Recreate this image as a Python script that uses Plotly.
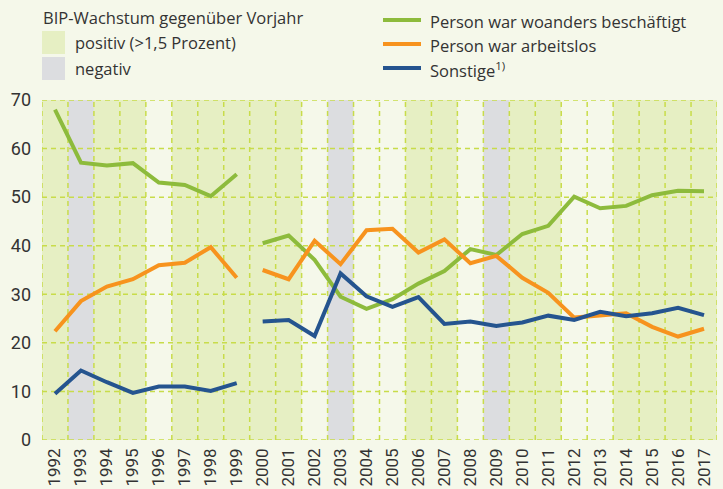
import plotly.graph_objects as go

years = list(range(1992, 2018))
year_labels = [str(y) for y in years]

# BIP growth category per year: "pos" (>1.5%), "neg", "" (neither)
bip = ["pos", "neg", "pos", "pos", "", "pos", "pos", "pos", "pos", "pos", "", "neg", "", "",
       "pos", "pos", "", "neg", "pos", "pos", "", "", "pos", "pos", "pos", "pos"]

woanders = [68.0, 57.1, 56.5, 57.0, 53.0, 52.5, 50.2, 54.7,
            40.5, 42.1, 37.1, 29.5, 27.0, 29.0, 32.2, 34.8, 39.3, 38.1, 42.4, 44.1,
            50.1, 47.7, 48.2, 50.4, 51.3, 51.2]
arbeitslos = [22.4, 28.6, 31.6, 33.1, 36.0, 36.5, 39.7, 33.4,
              35.0, 33.1, 41.0, 36.2, 43.2, 43.5, 38.6, 41.3, 36.4, 37.9, 33.4, 30.3,
              25.2, 25.7, 26.1, 23.3, 21.3, 22.9]
sonstige = [9.5, 14.3, 11.9, 9.7, 11.0, 11.0, 10.1, 11.7,
            24.4, 24.7, 21.4, 34.3, 29.6, 27.4, 29.4, 23.9, 24.4, 23.5, 24.2, 25.6,
            24.7, 26.4, 25.5, 26.1, 27.2, 25.7]

series_names = ["Person war woanders beschäftigt", "Person war arbeitslos", "Sonstige<sup>1)</sup>"]
series_colors = ["#8dbb3c", "#f7931e", "#25548f"]
bip_title = "BIP-Wachstum gegenüber Vorjahr"
bip_names = {"pos": "positiv (>1,5 Prozent)", "neg": "negativ"}
bip_colors = {"pos": "#e6efc3", "neg": "#dcdde0"}
y_ticks = [0, 10, 20, 30, 40, 50, 60, 70]

BG = "#f5f8ea"
GRID = "#c8dc4a"
TXT = "#333333"
LFONT = "Open Sans, sans-serif"
TFONT = "Roboto, sans-serif"
LSIZE = 16.5

fig = go.Figure()

# shading for BIP growth
shapes = []
for y, c in zip(years, bip):
    if c:
        shapes.append(dict(type="rect", xref="x", yref="y", x0=y - 0.5, x1=y + 0.5,
                           y0=0, y1=70, fillcolor=bip_colors[c], line_width=0, layer="below"))

# split series at the 1999/2000 break
split = years.index(2000)
for vals, name, col in zip([woanders, arbeitslos, sonstige], series_names, series_colors):
    for sl in (slice(0, split), slice(split, None)):
        fig.add_trace(go.Scatter(x=years[sl], y=vals[sl], mode="lines", name=name,
                                 line=dict(color=col, width=4), showlegend=False,
                                 hoverinfo="skip"))

# plot-area pixel geometry helpers (legend placement)
L, R, T, B = 42, 6, 100, 49
W, H = 723 - L - R, 489 - T - B
def px(x):
    return (x - L) / W
def py(y):
    return (489 - B - y) / H

annotations = []
annotations.append(dict(text=bip_title, x=px(41), y=py(18), xref="paper", yref="paper",
                        xanchor="left", yanchor="middle", showarrow=False,
                        font=dict(size=LSIZE, color=TXT, family=LFONT)))
for i, key in enumerate(["pos", "neg"]):
    yc = 42.5 + i * 26
    shapes.append(dict(type="rect", xref="paper", yref="paper", x0=px(42), x1=px(65),
                       y0=py(yc - 11.5), y1=py(yc + 11.5), fillcolor=bip_colors[key], line_width=0))
    annotations.append(dict(text=bip_names[key], x=px(73), y=py(yc), xref="paper", yref="paper",
                            xanchor="left", yanchor="middle", showarrow=False,
                            font=dict(size=LSIZE, color=TXT, family=LFONT)))
for i, (name, col) in enumerate(zip(series_names, series_colors)):
    yc = 20 + i * 24
    shapes.append(dict(type="line", xref="paper", yref="paper", x0=px(383), x1=px(421),
                       y0=py(yc), y1=py(yc), line=dict(color=col, width=4)))
    annotations.append(dict(text=name, x=px(428), y=py(yc + 1.5), xref="paper", yref="paper",
                            xanchor="left", yanchor="middle", showarrow=False,
                            font=dict(size=LSIZE, color=TXT, family=LFONT)))

# dashed vertical cell borders and horizontal grid
for b in [years[0] - 0.5] + [y + 0.5 for y in years]:
    shapes.append(dict(type="line", xref="x", yref="y", x0=b, x1=b, y0=0, y1=70,
                       line=dict(color=GRID, width=1.5, dash="5px,4px"), layer="below"))
for t in y_ticks:
    shapes.append(dict(type="line", xref="x", yref="y", x0=years[0] - 0.5, x1=years[-1] + 0.5,
                       y0=t, y1=t, line=dict(color=GRID, width=1.5, dash="5px,4px"), layer="below"))

fig.update_layout(
    width=723, height=489,
    margin=dict(l=L, r=R, t=T, b=B),
    paper_bgcolor=BG, plot_bgcolor=BG,
    shapes=shapes, annotations=annotations,
    font=dict(family=TFONT, color=TXT, size=17),
    xaxis=dict(range=[years[0] - 0.5, years[-1] + 0.5], tickvals=years, ticktext=year_labels,
               tickangle=-90, showgrid=False, zeroline=False, showline=False, ticks="",
               automargin=False, ticklabelstandoff=4,
               tickfont=dict(size=17, family=TFONT, color=TXT), fixedrange=True),
    yaxis=dict(range=[0, 70], tickvals=y_ticks, showgrid=False, zeroline=False, showline=False,
               ticks="", automargin=False, ticklabelstandoff=10,
               tickfont=dict(size=18, family=TFONT, color=TXT), fixedrange=True),
)

fig.write_html("out.html", config={"displayModeBar": False})

# remove the browser's default page margin so the figure sits at the window origin
with open("out.html", encoding="utf-8") as f:
    html = f.read()
html = html.replace("<head>", "<head><style>html,body{margin:0;padding:0;overflow:hidden;}</style>", 1)
with open("out.html", "w", encoding="utf-8") as f:
    f.write(html)
